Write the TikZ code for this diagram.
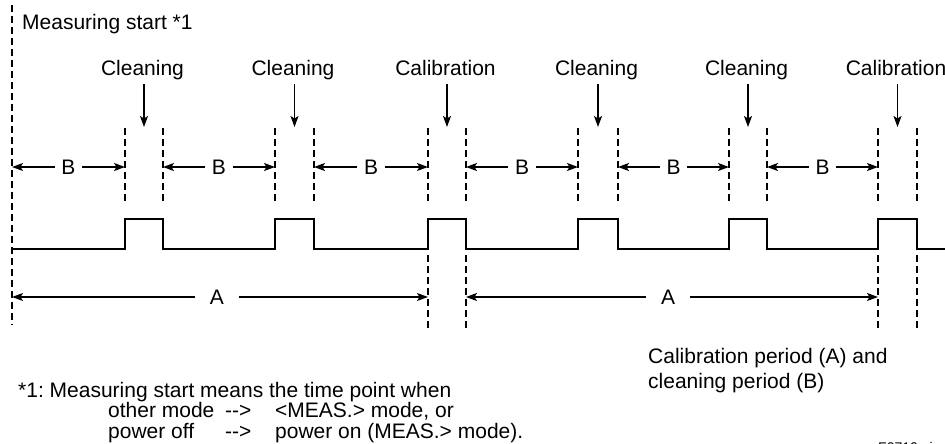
\documentclass[tikz,border=0pt]{standalone}
\usepackage{fontspec}
\setmainfont{Liberation Sans}
\usetikzlibrary{arrows.meta}
\frenchspacing
\begin{document}
\begin{tikzpicture}[x=1pt,y=-1pt,
  txt/.style={font=\fontsize{21}{24}\selectfont, inner sep=0pt},
  small/.style={font=\fontsize{14}{16}\selectfont, inner sep=0pt},
  dsh/.style={line width=1.8pt, dash pattern=on 7pt off 4pt},
  sig/.style={line width=2.6pt, line join=miter, line cap=butt},
  arr/.style={line width=1.3pt, -{Stealth[length=11pt,width=8pt,inset=2.5pt]}},
  lbl/.style={txt, fill=white, inner ysep=2pt}
  ]
\useasboundingbox (0,0) rectangle (945,444);

% start line
\draw[dsh] (12,5) -- (12,325);
\node[txt, anchor=base west] (start) at (22,30) {Measuring start *1};

% signal
\draw[sig] (12,249) -- (125,249) -- (125,219) -- (163,219) -- (163,249)
  -- (275,249) -- (275,219) -- (314,219) -- (314,249)
  -- (428,249) -- (428,219) -- (466,219) -- (466,249)
  -- (578,249) -- (578,219) -- (618,219) -- (618,249)
  -- (729,249) -- (729,219) -- (767,219) -- (767,249)
  -- (878,249) -- (878,219) -- (917,219) -- (917,249) -- (945,249);

% upper dashed lines, labels and arrows
\foreach \i/\a/\b/\t in {1/125/163/Cleaning, 2/275/314/Cleaning, 3/428/466/Calibration,
                         4/578/618/Cleaning, 5/729/767/Cleaning, 6/878/917/Calibration}{
  \draw[dsh] (\a,128) -- (\a,203);
  \draw[dsh] (\b,128) -- (\b,203);
  \node[txt, anchor=base] (L\i) at ({(\a+\b)/2-1.5},75) {\t};
  \coordinate (T\i) at ({(\a+\b)/2},127);
  \draw[arr] ([yshift=-9pt]L\i.base -| T\i) -- (T\i);
}

% lower dashed lines at calibration
\foreach \x in {428,466,878,917}{
  \draw[dsh] (\x,255) -- (\x,330);
}

% B arrows
\foreach \i/\a/\b in {1/12/125, 2/163/275, 3/314/428, 4/466/578, 5/618/729, 6/767/878}{
  \node[lbl, inner xsep=6.5pt] (B\i) at ({(\a+\b)/2},167) {B};
  \coordinate (BL\i) at (\a,167);
  \coordinate (BR\i) at (\b,167);
  \draw[arr] (B\i.west) -- (BL\i);
  \draw[arr] (B\i.east) -- (BR\i);
}

% A arrows
\foreach \i/\a/\b/\m in {1/12/428/217, 2/466/878/668}{
  \node[lbl, inner xsep=14.5pt] (A\i) at (\m,297) {A};
  \coordinate (AL\i) at (\a,297);
  \coordinate (AR\i) at (\b,297);
  \draw[arr] (A\i.west) -- (AL\i);
  \draw[arr] (A\i.east) -- (AR\i);
}

% caption
\node[txt, anchor=base west] (cap1) at (648,363) {Calibration period (A) and};
\node[txt, anchor=base west] (cap2) at (648,388) {cleaning period (B)};

% footnote
\node[txt, anchor=base west] (f1) at (18,397) {*1: Measuring start means the time point when};
\node[txt, anchor=base west] (f2a) at (108,417) {other mode};
\node[txt, anchor=base west] (f2b) at (225,417) {-{}-{}>};
\node[txt, anchor=base west] (f2c) at (275,417) {<MEAS.> mode, or};
\node[txt, anchor=base west] (f3a) at (108,438) {power off};
\node[txt, anchor=base west] (f3b) at (225,438) {-{}-{}>};
\node[txt, anchor=base west] (f3c) at (275,438) {power on (MEAS.> mode).};

\node[small, anchor=base west] (fig) at (878,452) {F0710.ai};
\end{tikzpicture}
\end{document}
